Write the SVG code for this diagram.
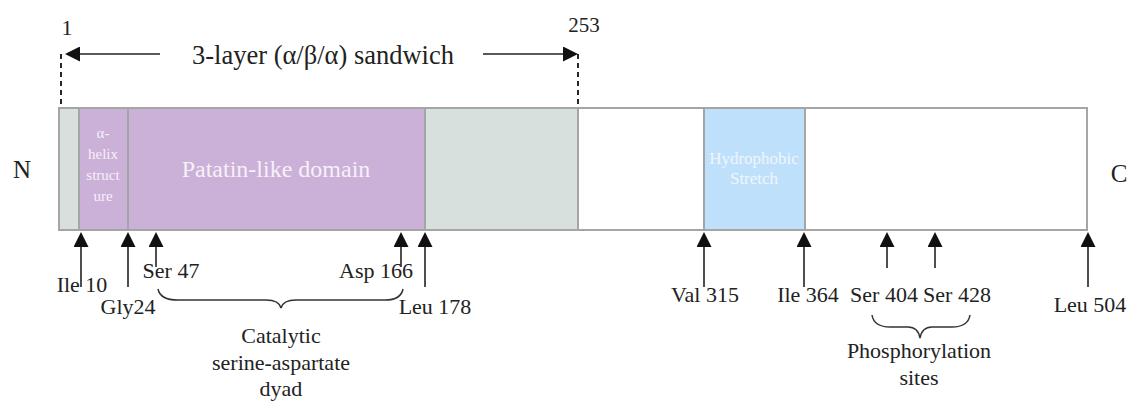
<svg xmlns="http://www.w3.org/2000/svg" width="1138" height="401" viewBox="0 0 1138 401">
<style>
  text { font-family: "Liberation Serif", "Times New Roman", serif; fill: #222; }
  .lbl { font-size: 22px; }
  .inner { fill: #f6f1f8; }
  .seg { stroke: #a3a6a4; stroke-width: 2; }
  .shaft { stroke: #222; stroke-width: 1.6; fill: none; marker-end: url(#head); }
  .brace { stroke: #333; stroke-width: 1.5; fill: none; }
  .dash { stroke: #111; stroke-width: 1.8; stroke-dasharray: 5 4; fill: none; }
</style>
<defs>
  <marker id="head" markerUnits="userSpaceOnUse" markerWidth="16" markerHeight="15" refX="7" refY="7.5" orient="auto">
    <path d="M0,0 L15,7.5 L0,15 z" fill="#111"/>
  </marker>
</defs>
<rect width="1138" height="401" fill="#fff"/>

<g id="bar">
  <rect id="seg-n" class="seg" x="59" y="108" width="20" height="122" fill="#d7e0dc"/>
  <g id="alpha-helix">
    <rect class="seg" x="79" y="108" width="49" height="122" fill="#cbb0d8"/>
    <text class="inner" font-size="15" text-anchor="middle"><tspan x="103" y="138">α-</tspan><tspan x="103" y="159">helix</tspan><tspan x="103" y="180">struct</tspan><tspan x="103" y="201">ure</tspan></text>
  </g>
  <g id="patatin">
    <rect class="seg" x="128" y="108" width="297" height="122" fill="#cbb0d8"/>
    <text class="inner" x="276" y="177" font-size="24" text-anchor="middle">Patatin-like domain</text>
  </g>
  <rect id="seg-gray" class="seg" x="425" y="108" width="153" height="122" fill="#d7e0dc"/>
  <rect id="seg-white1" class="seg" x="578" y="108" width="126" height="122" fill="#fff"/>
  <g id="hydrophobic">
    <rect class="seg" x="704" y="108" width="101" height="122" fill="#bfe0fb"/>
    <text class="inner" font-size="17" text-anchor="middle" style="fill:#eef6fd"><tspan x="754" y="164">Hydrophobic</tspan><tspan x="754" y="184">Stretch</tspan></text>
  </g>
  <rect id="seg-white2" class="seg" x="805" y="108" width="282" height="122" fill="#fff"/>
</g>

<g id="termini">
  <text id="n-term" x="22" y="178" font-size="25" text-anchor="middle">N</text>
  <text id="c-term" x="1119" y="182" font-size="25" text-anchor="middle">C</text>
</g>

<g id="sandwich">
  <text x="67" y="35" font-size="22" text-anchor="middle">1</text>
  <text x="584" y="32" font-size="21" text-anchor="middle">253</text>
  <text x="323" y="64" font-size="26.5" text-anchor="middle">3-layer (α/β/α) sandwich</text>
</g>

<g id="connectors">
  <line class="dash" x1="61" y1="54" x2="61" y2="108"/>
  <line class="dash" x1="578" y1="54" x2="578" y2="108"/>
  <line class="shaft" x1="160" y1="54" x2="73" y2="54"/>
  <line class="shaft" x1="483" y1="54" x2="570" y2="54"/>

  <line class="shaft" x1="81" y1="287" x2="81" y2="240"/>
  <line class="shaft" x1="128" y1="287" x2="128" y2="240"/>
  <line class="shaft" x1="156" y1="267" x2="156" y2="240"/>
  <line class="shaft" x1="401" y1="267" x2="401" y2="240"/>
  <line class="shaft" x1="425" y1="287" x2="425" y2="240"/>
  <line class="shaft" x1="704" y1="287" x2="704" y2="240"/>
  <line class="shaft" x1="804" y1="287" x2="804" y2="240"/>
  <line class="shaft" x1="887" y1="268" x2="887" y2="240"/>
  <line class="shaft" x1="935" y1="268" x2="935" y2="240"/>
  <line class="shaft" x1="1088" y1="287" x2="1088" y2="240"/>

  <path class="brace" d="M158,289 Q160,300 178,300 L266,300 Q279,300 281,308 Q283,300 296,300 L385,300 Q401,300 403,289"/>
  <path class="brace" d="M872,315 Q874,327 890,327 L908,327 Q918,327 920,338 Q922,327 932,327 L952,327 Q968,327 970,315"/>
</g>

<g id="site-labels">
  <text class="lbl" x="82" y="292" text-anchor="middle">Ile 10</text>
  <text class="lbl" x="128" y="314" text-anchor="middle">Gly24</text>
  <text class="lbl" x="171" y="278" text-anchor="middle">Ser 47</text>
  <text class="lbl" x="376" y="278" text-anchor="middle">Asp 166</text>
  <text class="lbl" x="435" y="314" text-anchor="middle">Leu 178</text>
  <text class="lbl" x="705" y="302" text-anchor="middle">Val 315</text>
  <text class="lbl" x="808" y="302" text-anchor="middle">Ile 364</text>
  <text class="lbl" x="884" y="302" text-anchor="middle">Ser 404</text>
  <text class="lbl" x="957" y="302" text-anchor="middle">Ser 428</text>
  <text class="lbl" x="1090" y="312" text-anchor="middle">Leu 504</text>
</g>

<g id="group-labels">
  <text class="lbl" text-anchor="middle"><tspan x="281" y="343">Catalytic</tspan><tspan x="281" y="370">serine-aspartate</tspan><tspan x="281" y="396">dyad</tspan></text>
  <text class="lbl" text-anchor="middle"><tspan x="919" y="358">Phosphorylation</tspan><tspan x="919" y="385">sites</tspan></text>
</g>
</svg>
